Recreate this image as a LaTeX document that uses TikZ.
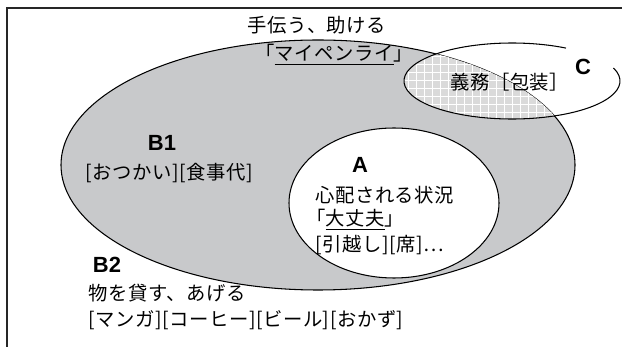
\documentclass[tikz,border=0pt]{standalone}
\usepackage{fontspec}
\setmainfont[LetterSpace=3]{Noto Sans CJK JP}
\newfontfamily\labelfont{Liberation Sans}
\definecolor{setgray}{RGB}{200,201,203}
\definecolor{meshgray}{RGB}{218,218,218}

\begin{document}
\begin{tikzpicture}[x=0.02cm,y=-0.02cm]
        \tikzset{jtext/.style = {anchor=west,inner sep=0pt,font=\fontsize{11}{13}\selectfont}}
        \tikzset{setlabel/.style = {inner sep=0pt,font=\labelfont\bfseries\fontsize{12.5}{14}\selectfont}}
        \tikzset{setline/.style = {draw=black,line width=0.6pt}}
        \tikzset{meshline/.style = {white,line width=0.5pt}}
        \useasboundingbox (0,0) rectangle (622,347);
        % frame
        \draw[black!85,line width=1.2pt] (7,347) -- (7,8) -- (622,8);
        % sets
        \fill[setgray] (318,165) ellipse [x radius=257, y radius=125];
        \draw[setline] (318,165) ellipse [x radius=257, y radius=125];
        \begin{scope}
          \clip (318,165) ellipse [x radius=257, y radius=125];
          \clip (512,81) ellipse [x radius=108, y radius=38];
          \fill[meshgray] (400,40) rectangle (622,125);
          \foreach \gx in {400,408,...,622} \draw[meshline] (\gx,40) -- (\gx,125);
          \foreach \gy in {40,48,...,125} \draw[meshline] (400,\gy) -- (622,\gy);
        \end{scope}
        \filldraw[setline,fill=white] (394,203) ellipse [x radius=105, y radius=75];
        \draw[setline] (512,81) ++(-20:108 and 38) arc [start angle=-20, end angle=300, x radius=108, y radius=38];
        % labels
        \node[jtext] (help) at (247,25) {手伝う、助ける};
        \node[jtext] (mai)  at (255,55) {「\underline{マイペンライ}」};
        \node[setlabel] (b1) at (162,143) {B1};
        \node[jtext] (errand) at (85,173) {[おつかい][食事代]};
        \node[setlabel] (a) at (360,165) {A};
        \node[jtext] (worry) at (315,195) {心配される状況};
        \node[jtext] (ok)    at (306,220) {「\underline{大丈夫}」};
        \node[jtext] (move)  at (315,245) {[引越し][席]⋯};
        \node[setlabel] (b2) at (107,265) {B2};
        \node[jtext] (lend)  at (88,293) {物を貸す、あげる};
        \node[jtext] (goods) at (88,320) {[マンガ][コーヒー][ビール][おかず]};
        \node[jtext] (duty)  at (450,82) {義務［包装］};
        \node[setlabel] (c) at (583,67) {C};
\end{tikzpicture}
\end{document}
